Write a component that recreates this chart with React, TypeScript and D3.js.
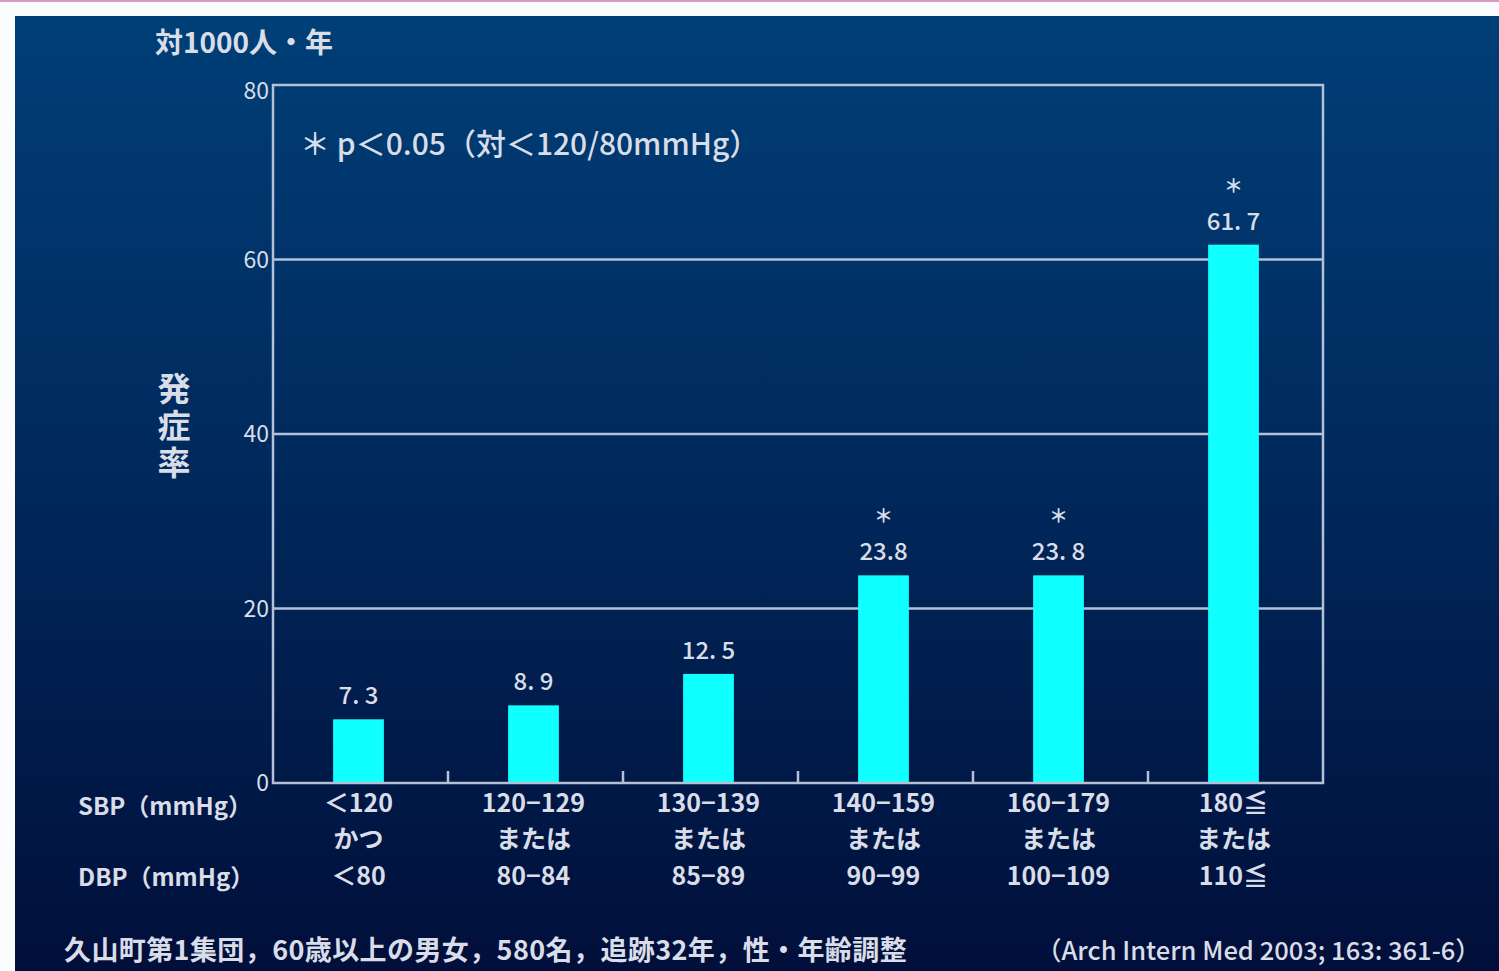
import React from "react";
import * as d3 from "d3";

const categories = ["c1", "c2", "c3", "c4", "c5", "c6"];
const sbpLabels = ["＜120", "120−129", "130−139", "140−159", "160−179", "180≦"];
const joinLabels = ["かつ", "または", "または", "または", "または", "または"];
const dbpLabels = ["＜80", "80−84", "85−89", "90−99", "100−109", "110≦"];
const values = [7.3, 8.9, 12.5, 23.8, 23.8, 61.7];
const valueLabels = ["7. 3", "8. 9", "12. 5", "23.8", "23. 8", "61. 7"];
const significant = [false, false, false, true, true, true];
const yTicks = [0, 20, 40, 60, 80];

const W = 1499;
const H = 971;
const plot = { left: 273, right: 1323, top: 85, bottom: 783 };
const FONT = "'Noto Sans CJK JP', 'Noto Sans', sans-serif";
const TXT = "#d9dde8";
const FRAME = "#b4c0d6";

export default function App() {
  const x = d3
    .scaleBand<string>()
    .domain(categories)
    .range([plot.left - 2, plot.right - 2])
    .paddingInner(0.71)
    .paddingOuter(0.355);
  const xb = d3.scaleBand<string>().domain(categories).range([plot.left, plot.right]);
  const y = d3.scaleLinear().domain([0, 80]).range([plot.bottom, plot.top]);

  return (
    <svg
      width={W}
      height={H}
      style={{ position: "fixed", left: 0, top: 0, display: "block" }}
      fontFamily={FONT}
    >
      <defs>
        <linearGradient id="bg" x1="0" y1="0" x2="0" y2="1">
          <stop offset="0" stopColor="#003f77" />
          <stop offset="0.45" stopColor="#002a5e" />
          <stop offset="1" stopColor="#010f3a" />
        </linearGradient>
      </defs>
      <rect x={0} y={0} width={W} height={H} fill="#fbfcfd" />
      <rect x={0} y={0} width={W} height={2} fill="#d69ac4" />
      <rect x={15} y={16} width={W - 15} height={H - 16} fill="url(#bg)" />

      {/* gridlines */}
      {yTicks
        .filter((t) => t > 0 && t < 80)
        .map((t) => (
          <line
            key={"g" + t}
            x1={plot.left}
            x2={plot.right}
            y1={y(t)}
            y2={y(t)}
            stroke={FRAME}
            strokeWidth={2.5}
          />
        ))}

      {/* bars */}
      {values.map((v, i) => (
        <rect
          key={"b" + i}
          x={x(categories[i])}
          y={y(v)}
          width={x.bandwidth()}
          height={y(0) - y(v)}
          fill="#10ffff"
        />
      ))}

      {/* frame */}
      <rect
        x={plot.left}
        y={plot.top}
        width={plot.right - plot.left}
        height={plot.bottom - plot.top}
        fill="none"
        stroke={FRAME}
        strokeWidth={2.5}
      />
      {/* band separator ticks */}
      {categories.slice(1).map((c) => (
        <line
          key={"t" + c}
          x1={xb(c)}
          x2={xb(c)}
          y1={plot.bottom}
          y2={plot.bottom - 12}
          stroke={FRAME}
          strokeWidth={2.5}
        />
      ))}

      {/* y tick labels */}
      {yTicks.map((t) => (
        <text
          key={"yl" + t}
          x={plot.left - 4}
          y={y(t) + (t === 80 ? 14 : 8)}
          textAnchor="end"
          fontSize={23}
          fill={TXT}
        >
          {t}
        </text>
      ))}

      {/* value labels */}
      {values.map((v, i) => {
        const cx = (x(categories[i]) as number) + x.bandwidth() / 2;
        return (
          <g key={"vl" + i}>
            <text x={cx} y={y(v) - 15} textAnchor="middle" fontSize={24} fill={TXT} fontWeight={500}>
              {valueLabels[i]}
            </text>
            {significant[i] && (
              <text x={cx} y={y(v) - 52} textAnchor="middle" fontSize={19} fill={TXT} fontWeight={700}>
                ＊
              </text>
            )}
          </g>
        );
      })}

      {/* category labels */}
      {categories.map((c, i) => {
        const cx = (xb(c) as number) + xb.bandwidth() / 2 - 2;
        return (
          <g key={"cl" + c} fontSize={25} fill={TXT} fontWeight={700} textAnchor="middle">
            <text x={cx} y={812}>{sbpLabels[i]}</text>
            <text x={cx} y={848}>{joinLabels[i]}</text>
            <text x={cx} y={885}>{dbpLabels[i]}</text>
          </g>
        );
      })}
      <text x={78} y={815} fontSize={24} fill={TXT} fontWeight={700}>SBP（mmHg）</text>
      <text x={78} y={886} fontSize={24} fill={TXT} fontWeight={700}>DBP（mmHg）</text>

      {/* titles */}
      <text x={155} y={53} fontSize={28} fill={TXT} fontWeight={700}>対1000人・年</text>
      <text
        x={174}
        y={372}
        fontSize={33}
        fill={TXT}
        fontWeight={700}
        letterSpacing={4}
        style={{ writingMode: "vertical-rl" }}
      >
        発症率
      </text>
      <text x={300} y={155} fontSize={30} fill={TXT} fontWeight={500}>
        ＊ p＜0.05（対＜120/80mmHg）
      </text>

      {/* footer */}
      <text x={64} y={960} fontSize={27} fill={TXT} fontWeight={700} letterSpacing={0.4}>
        久山町第1集団，60歳以上の男女，580名，追跡32年，性・年齢調整
      </text>
      <text x={1036} y={960} fontSize={25.5} fill={TXT} fontWeight={500}>
        （Arch Intern Med 2003; 163: 361-6）
      </text>
    </svg>
  );
}
